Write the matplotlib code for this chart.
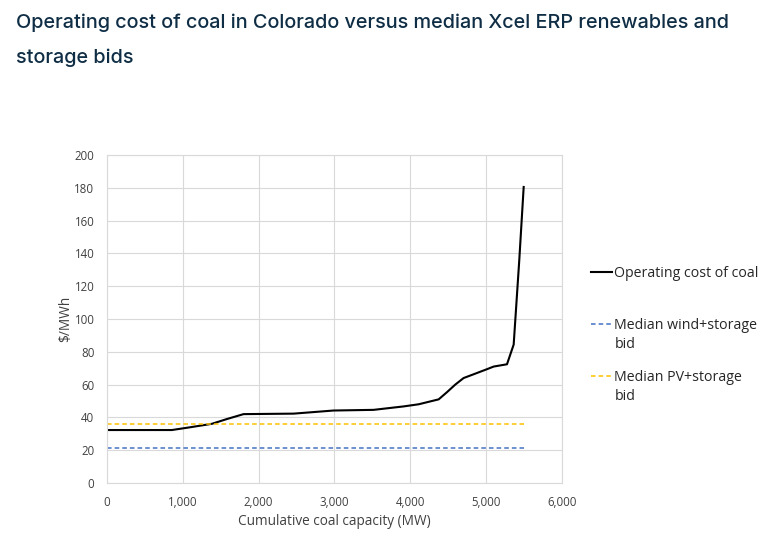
import matplotlib
matplotlib.use("Agg")
import matplotlib.pyplot as plt

# cumulative coal capacity (MW) vs operating cost ($/MWh)
capacity = [0, 857, 1100, 1385, 1582, 1802, 2462, 2989, 3516, 3912, 4110,
            4374, 4484, 4593, 4703, 4835, 5011, 5099, 5275, 5363, 5437, 5495]
coal_cost = [32.3, 32.3, 34.0, 36.1, 39.0, 42.0, 42.3, 44.2, 44.6, 46.7, 48.0,
             51.0, 55.4, 60.0, 64.0, 66.3, 69.4, 71.0, 72.4, 84.4, 136.0, 180.5]

bid_span = [0, 5500]
wind_storage_bid = 21.1
pv_storage_bid = 36.0

xticks = [0, 1000, 2000, 3000, 4000, 5000, 6000]
yticks = list(range(0, 201, 20))

title = "Operating cost of coal in Colorado versus median Xcel ERP renewables and\nstorage bids"
# legend labels: first line goes in the legend, the wrapped rest sits below
legend_first = ["Operating cost of coal", "Median wind+storage", "Median PV+storage"]
legend_rest = ["", "bid", "bid"]

fig = plt.figure(figsize=(7.8, 5.49), dpi=100)
fig.patch.set_facecolor("white")
ax = fig.add_axes([0.137, 0.1202, 0.5835, 0.5975])

font = "Open Sans"
grid_col = "#d9d9d9"
text_col = "#404040"

l1, = ax.plot(capacity, coal_cost, color="black", lw=1.5)
l2, = ax.plot(bid_span, [wind_storage_bid] * 2, color="#4472c4", lw=1.1,
              dashes=(3, 2))
l3, = ax.plot(bid_span, [pv_storage_bid] * 2, color="#ffc000", lw=1.1,
              dashes=(3, 2))

ax.set_xlim(0, 6000)
ax.set_ylim(0, 200)
ax.set_xticks(xticks)
ax.set_xticklabels([f"{v:,}" for v in xticks])
ax.set_yticks(yticks)
ax.grid(True, color=grid_col, lw=0.8)
ax.set_axisbelow(True)
for s in ax.spines.values():
    s.set_color(grid_col)
    s.set_linewidth(0.8)
ax.tick_params(length=0, labelsize=8.3, labelcolor=text_col)
ax.tick_params(axis="x", pad=9)
ax.tick_params(axis="y", pad=9)
for lab in ax.get_xticklabels() + ax.get_yticklabels():
    lab.set_fontfamily(font)

ax.set_xlabel("Cumulative coal capacity (MW)", fontsize=9.8, color=text_col,
              family=font, labelpad=4)
ax.set_ylabel(r"\$/MWh", fontsize=9.8, color=text_col, family=font,
              labelpad=1)

leg = ax.legend([l1, l2, l3], legend_first, loc="upper left",
                bbox_to_anchor=(1.064, 0.661), frameon=False,
                handlelength=1.45, handletextpad=0.2, labelspacing=2.6,
                borderaxespad=0, borderpad=0,
                prop={"family": font, "size": 10.2})
fig.canvas.draw()
inv = fig.transFigure.inverted()
for t, rest in zip(leg.get_texts(), legend_rest):
    t.set_color("#262626")
    if rest:
        bb = t.get_window_extent()
        x0, y0 = inv.transform((bb.x0, bb.y0))
        fig.text(x0, y0 - 0.008, rest, fontsize=10.2, family=font,
                 color="#262626", va="top", ha="left")

fig.text(0.021, 0.975, title, fontsize=14.3, color="#0f2e45",
         family="Inter", weight="medium", va="top", linespacing=2.15)

fig.savefig("out.png", dpi=100)
